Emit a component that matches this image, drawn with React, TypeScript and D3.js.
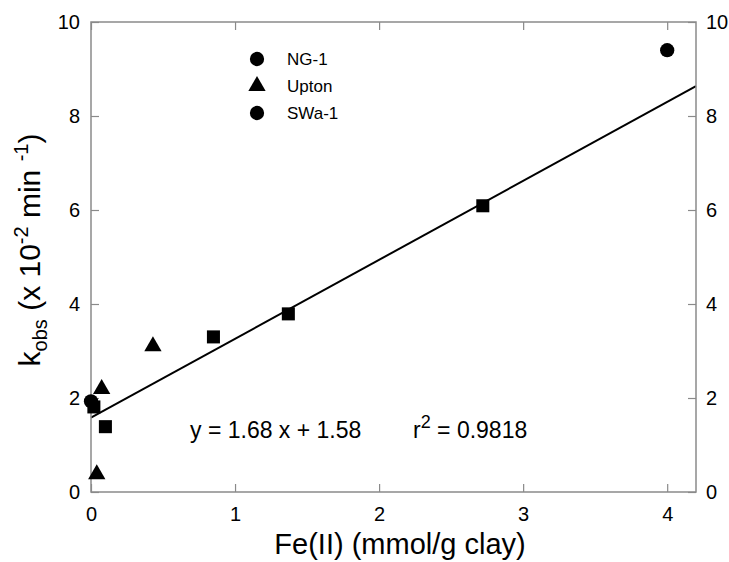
import React, { useEffect, useRef } from 'react';
import * as d3 from 'd3';

// Fe(II) (mmol/g clay) vs kobs (x 10^-2 min^-1)
const ngX = [0.0, 4.0];
const ngY = [1.93, 9.4];
const uptonX = [0.04, 0.074, 0.43];
const uptonY = [0.38, 2.19, 3.1];
const swaX = [0.02, 0.1, 0.85, 1.37, 2.72];
const swaY = [1.81, 1.39, 3.3, 3.79, 6.09];

const xTicks = [0, 1, 2, 3, 4];
const yTicks = [0, 2, 4, 6, 8, 10];

const slope = 1.68;
const intercept = 1.58;

const legendNames = ['NG-1', 'Upton', 'SWa-1'];
const legendShapes = ['circle', 'triangle', 'circle'];

const App = () => {
    const svgRef = useRef<SVGSVGElement | null>(null);

    useEffect(() => {
        const width = 729;
        const height = 562;
        const left = 91;
        const right = 696;
        const top = 22;
        const bottom = 492;
        const font = '"Liberation Sans", Arial, sans-serif';
        const frameColor = '#8a8a8a';

        const svg = d3.select(svgRef.current);
        svg.selectAll('*').remove();
        svg.attr('width', width).attr('height', height);

        const x = d3.scaleLinear().domain([0, 4.2]).range([left, right]);
        const y = d3.scaleLinear().domain([0, 10]).range([bottom, top]);

        // regression line
        const lineGen = d3.line<number>()
            .x(d => x(d))
            .y(d => y(slope * d + intercept));
        svg.append('path')
            .attr('d', lineGen(x.domain()))
            .attr('fill', 'none')
            .attr('stroke', '#000')
            .attr('stroke-width', 2);

        const styleAxis = (g: d3.Selection<SVGGElement, unknown, null, undefined>) => {
            g.select('.domain').remove();
            g.selectAll('.tick line').attr('stroke', frameColor).attr('stroke-width', 1.2);
            g.selectAll('.tick text')
                .attr('fill', '#000')
                .style('font-family', font)
                .style('font-size', '20px');
        };

        const fmt = d3.format('d');
        svg.append('g')
            .attr('transform', `translate(${left},0)`)
            .call(d3.axisLeft(y).tickValues(yTicks).tickFormat(fmt).tickSizeInner(-8).tickSizeOuter(0).tickPadding(11))
            .call(styleAxis);
        svg.append('g')
            .attr('transform', `translate(${right},0)`)
            .call(d3.axisRight(y).tickValues(yTicks).tickFormat(fmt).tickSizeInner(-8).tickSizeOuter(0).tickPadding(10))
            .call(styleAxis);
        svg.append('g')
            .attr('transform', `translate(0,${bottom})`)
            .call(d3.axisBottom(x).tickValues(xTicks).tickFormat(fmt).tickSizeInner(-8).tickSizeOuter(0).tickPadding(15))
            .call(styleAxis);
        svg.append('g')
            .attr('transform', `translate(0,${top})`)
            .call(d3.axisTop(x).tickValues(xTicks).tickSizeInner(-8).tickSizeOuter(0).tickFormat(() => ''))
            .call(styleAxis);

        // frame
        svg.append('rect')
            .attr('x', left)
            .attr('y', top)
            .attr('width', right - left)
            .attr('height', bottom - top)
            .attr('fill', 'none')
            .attr('stroke', frameColor)
            .attr('stroke-width', 1.5);

        const circle = d3.symbol().type(d3.symbolCircle).size(160);
        const square = d3.symbol().type(d3.symbolSquare).size(170);
        const triangle = d3.symbol().type(d3.symbolTriangle).size(130);

        const drawSeries = (xs: number[], ys: number[], sym: d3.Symbol<any, any>) => {
            xs.forEach((v, i) => {
                svg.append('path')
                    .attr('d', sym())
                    .attr('transform', `translate(${x(v)},${y(ys[i])})`)
                    .attr('fill', '#000');
            });
        };
        drawSeries(swaX, swaY, square);
        drawSeries(uptonX, uptonY, triangle);
        drawSeries(ngX, ngY, circle);

        // legend
        legendNames.forEach((name, i) => {
            const ly = 59 + i * 27;
            svg.append('path')
                .attr('d', legendShapes[i] === 'triangle' ? triangle() : circle())
                .attr('transform', `translate(257,${ly})`)
                .attr('fill', '#000');
            svg.append('text')
                .attr('x', 287)
                .attr('y', ly)
                .attr('dy', '0.35em')
                .style('font-family', font)
                .style('font-size', '17px')
                .text(name);
        });

        // equation
        svg.append('text')
            .attr('x', 190)
            .attr('y', 438)
            .style('font-family', font)
            .style('font-size', '23px')
            .text(`y = ${slope} x + ${intercept}`);
        const r2 = svg.append('text')
            .attr('x', 413)
            .attr('y', 438)
            .style('font-family', font)
            .style('font-size', '23px');
        r2.append('tspan').text('r');
        r2.append('tspan').attr('dy', -10).style('font-size', '18px').text('2');
        r2.append('tspan').attr('dy', 10).text(' = 0.9818');

        // axis titles
        svg.append('text')
            .attr('x', 400)
            .attr('y', 554)
            .attr('text-anchor', 'middle')
            .style('font-family', font)
            .style('font-size', '29px')
            .text('Fe(II) (mmol/g clay)');

        const yt = svg.append('text')
            .attr('transform', `translate(40,250) rotate(-90)`)
            .attr('text-anchor', 'middle')
            .style('font-family', font)
            .style('font-size', '30px');
        yt.append('tspan').text('k');
        yt.append('tspan').attr('dy', 7).style('font-size', '20px').text('obs');
        yt.append('tspan').attr('dy', -7).text(' (x 10');
        yt.append('tspan').attr('dy', -12).style('font-size', '20px').text('-2');
        yt.append('tspan').attr('dy', 12).text(' min ');
        yt.append('tspan').attr('dy', -12).style('font-size', '20px').text('-1');
        yt.append('tspan').attr('dy', 12).text(')');
    }, []);

    return (
        <div style={{ position: 'absolute', left: 0, top: 0 }}>
            <svg ref={svgRef} style={{ display: 'block' }}></svg>
        </div>
    );
};

export default App;
